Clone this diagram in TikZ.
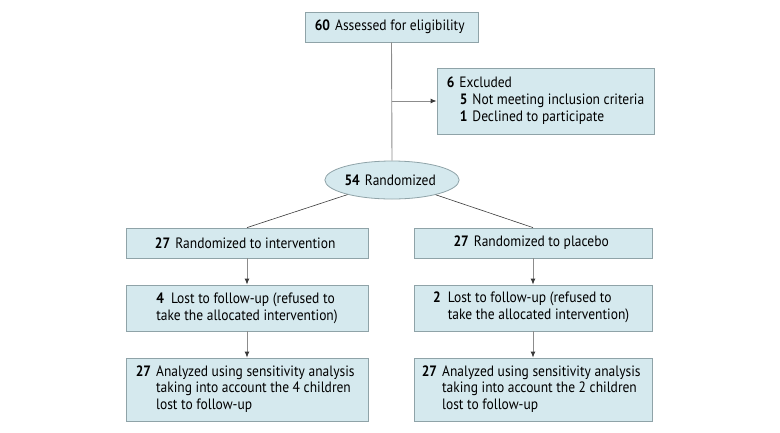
\documentclass[tikz,border=0pt]{standalone}
\usepackage{fontspec}
\setmainfont{PT Sans}[FakeStretch=0.9]
\usetikzlibrary{shapes.geometric,arrows.meta}
\definecolor{boxfill}{HTML}{D5E9EE}
\definecolor{boxdraw}{HTML}{8FA3A8}
\definecolor{linegray}{HTML}{8C8C8C}
\definecolor{tipgray}{HTML}{3A3A3A}

\begin{document}
\begin{tikzpicture}[x=1pt, y=-1pt,
		font=\fontsize{15}{16.7}\selectfont,
		flowbox/.style={draw=boxdraw, fill=boxfill, line width=0.8pt, inner sep=0pt, align=left},
		flowline/.style={draw=linegray, line width=0.9pt},
		flowarrow/.style={flowline, -{Latex[length=6pt, width=5pt, color=tipgray]}}
	]
		
		\useasboundingbox (0,0) rectangle (780,432);
		
		\node[flowbox, minimum width=173pt, minimum height=30pt] (assess) at (391.5,27) {
			\textbf{60}\hspace{5pt}Assessed for eligibility
		};
		
		\node[flowbox, minimum width=217pt, minimum height=66pt] (excl) at (545.5,101) {
			\begin{tabular}{@{}l@{\hspace{5pt}}l@{}}
				\textbf{6} & Excluded \\
			\end{tabular} \\
			\hspace*{13pt}\begin{tabular}{@{}l@{\hspace{5pt}}l@{}}
				\textbf{5} & Not meeting inclusion criteria \\
				\textbf{1} & Declined to participate
			\end{tabular}
		};
		
		\node[flowbox, ellipse, minimum width=130pt, minimum height=38pt] (rand) at (392,180) {
			\textbf{54}\hspace{5pt}Randomized
		};
		
		% intervention arm
		\node[flowbox, minimum width=242pt, minimum height=30pt] (intv) at (247,243) {
			\textbf{27}\hspace{5pt}Randomized to intervention
		};
		\node[flowbox, minimum width=242pt, minimum height=46pt] (intvlost) at (247,308) {
			\textbf{4}\hspace{7pt}Lost to follow-up (refused to \\
			take the allocated intervention)
		};
		\node[flowbox, minimum width=242pt, minimum height=63pt] (intvanl) at (247,389.5) {
			\begin{tabular}{@{}l@{\hspace{5pt}}l@{}}
				\textbf{27} & Analyzed using sensitivity analysis \\
				& taking into account the 4 children \\
				& lost to follow-up
			\end{tabular}
		};
		
		% placebo arm
		\node[flowbox, minimum width=238pt, minimum height=30pt] (plac) at (533,243) {
			\textbf{27}\hspace{5pt}Randomized to placebo
		};
		\node[flowbox, minimum width=238pt, minimum height=46pt] (placlost) at (533,308) {
			\begin{tabular}{@{}l@{\hspace{7pt}}l@{}}
				\textbf{2} & Lost to follow-up (refused to \\
				& take the allocated intervention)
			\end{tabular}
		};
		\node[flowbox, minimum width=238pt, minimum height=63pt] (placanl) at (533,389.5) {
			\begin{tabular}{@{}l@{\hspace{5pt}}l@{}}
				\textbf{27} & Analyzed using sensitivity analysis \\
				& taking into account the 2 children \\
				& lost to follow-up
			\end{tabular}
		};
		
		\coordinate (branch) at (assess.south |- excl.west);
		\draw[flowline] (assess.south) -- (rand.north);
		\draw[flowarrow] (branch) -- (excl.west);
		
		\draw[draw=tipgray, line width=0.6pt] (rand) -- (intv.north);
		\draw[draw=tipgray, line width=0.6pt] (rand) -- (plac.north);
		
		\draw[flowarrow] (intv) -- (intvlost);
		\draw[flowarrow] (intvlost) -- (intvanl);
		\draw[flowarrow] (plac) -- (placlost);
		\draw[flowarrow] (placlost) -- (placanl);

	\end{tikzpicture}
\end{document}
